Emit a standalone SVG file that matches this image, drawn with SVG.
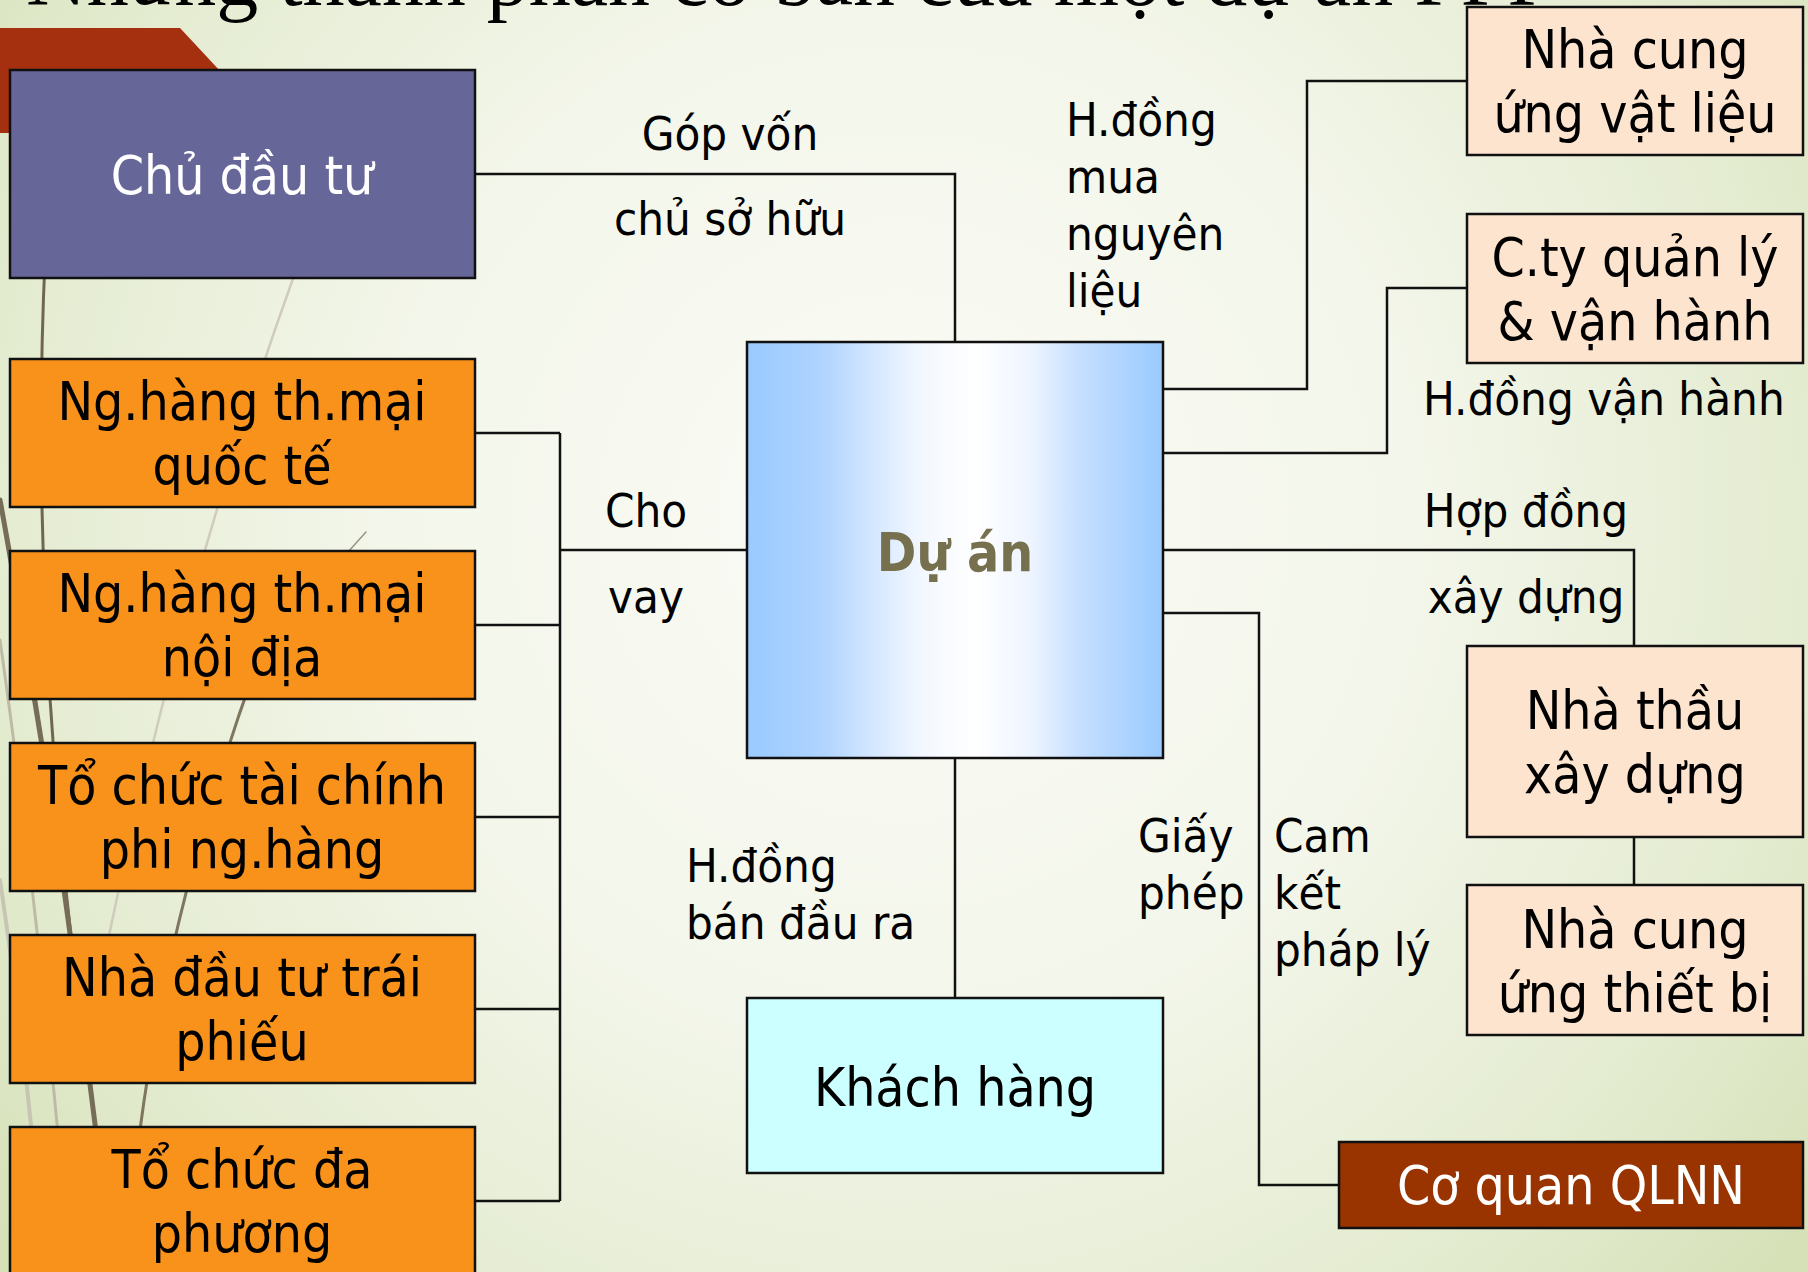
<svg xmlns="http://www.w3.org/2000/svg" width="1808" height="1272" viewBox="0 0 1808 1272">
  <defs>
    <radialGradient id="bg" cx="900" cy="520" r="1150" gradientUnits="userSpaceOnUse">
      <stop offset="0" stop-color="#FBFCF7"/>
      <stop offset="0.45" stop-color="#F3F6EA"/>
      <stop offset="0.8" stop-color="#E3EBCF"/>
      <stop offset="1" stop-color="#D6E1B8"/>
    </radialGradient>
    <linearGradient id="projFill" x1="0" y1="0" x2="1" y2="0">
      <stop offset="0" stop-color="#99CAFF"/>
      <stop offset="0.18" stop-color="#AFD4FF"/>
      <stop offset="0.3" stop-color="#D3E7FF"/>
      <stop offset="0.42" stop-color="#F3F8FF"/>
      <stop offset="0.55" stop-color="#FFFFFF"/>
      <stop offset="0.68" stop-color="#EEF5FF"/>
      <stop offset="0.8" stop-color="#C6DFFF"/>
      <stop offset="1" stop-color="#99CAFF"/>
    </linearGradient>
    <style>
      .box { stroke: #111; stroke-width: 2.5; }
      .bank { fill: #F8921A; }
      .peach { fill: #FDE4CF; }
      .node { font-family: 'DejaVu Sans Condensed', 'DejaVu Sans', sans-serif; font-stretch: condensed; font-size: 53px; text-anchor: middle; fill: #000; }
      .lbl { font-family: 'DejaVu Sans Condensed', 'DejaVu Sans', sans-serif; font-stretch: condensed; font-size: 47px; fill: #000; }
      .mid { text-anchor: middle; }
      .wire { fill: none; stroke: #111; stroke-width: 2.5; }
      .wisp { fill: none; stroke-linecap: round; }
    </style>
  </defs>

  <!-- slide background -->
  <rect x="0" y="0" width="1808" height="1272" fill="url(#bg)"/>

  <!-- theme wisps on the left edge -->
  <g id="wisps">
    <path class="wisp" d="M46 240 Q 22 700 118 1272" stroke="#6F6752" stroke-width="3"/>
    <path class="wisp" d="M0 500 Q 70 880 112 1272" stroke="#756D57" stroke-width="5"/>
    <path class="wisp" d="M0 640 Q 45 960 70 1272" stroke="#BEBAA6" stroke-width="3"/>
    <path class="wisp" d="M0 880 Q 30 1080 44 1272" stroke="#C8C5B3" stroke-width="4"/>
    <path class="wisp" d="M296 270 Q 170 620 96 1000" stroke="#CFCCBC" stroke-width="2.5"/>
    <path class="wisp" d="M262 650 Q 170 900 140 1130" stroke="#7E765F" stroke-width="3"/>
    <path class="wisp" d="M366 532 L 348 552" stroke="#9A9480" stroke-width="1.5"/>
  </g>

  <!-- red accent band -->
  <polygon points="0,28 180,28 278,133 0,133" fill="#A4300F"/>

  <!-- title -->
  <text x="26" y="5" font-family="'Liberation Serif', serif" font-size="84" fill="#000">Những thành phần cơ bản của một dự án PPP</text>

  <!-- connectors -->
  <g id="connectors">
    <path class="wire" d="M475 174 H955 V342"/>
    <path class="wire" d="M475 433 H560 M475 625 H560 M475 817 H560 M475 1009 H560 M475 1201 H560 M560 433 V1201 M560 550 H747"/>
    <path class="wire" d="M1163 389 H1307 V81 H1467"/>
    <path class="wire" d="M1163 453 H1387 V288 H1467"/>
    <path class="wire" d="M1163 550 H1634 V646"/>
    <path class="wire" d="M1634 837 V885"/>
    <path class="wire" d="M1163 613 H1259 V1185 H1339"/>
    <path class="wire" d="M955 758 V998"/>
  </g>

  <!-- connector labels -->
  <g id="labels">
    <text class="lbl mid" x="730" y="150">Góp vốn</text>
    <text class="lbl mid" x="730" y="235">chủ sở hữu</text>
    <text class="lbl" x="1066" y="136">H.đồng</text>
    <text class="lbl" x="1066" y="193">mua</text>
    <text class="lbl" x="1066" y="250">nguyên</text>
    <text class="lbl" x="1066" y="307">liệu</text>
    <text class="lbl" x="1423" y="415">H.đồng vận hành</text>
    <text class="lbl mid" x="1526" y="527">Hợp đồng</text>
    <text class="lbl mid" x="1526" y="613">xây dựng</text>
    <text class="lbl mid" x="646" y="527">Cho</text>
    <text class="lbl mid" x="646" y="613">vay</text>
    <text class="lbl" x="686" y="882">H.đồng</text>
    <text class="lbl" x="686" y="939">bán đầu ra</text>
    <text class="lbl" x="1138" y="852">Giấy</text>
    <text class="lbl" x="1138" y="909">phép</text>
    <text class="lbl" x="1274" y="852">Cam</text>
    <text class="lbl" x="1274" y="909">kết</text>
    <text class="lbl" x="1274" y="966">pháp lý</text>
  </g>

  <!-- nodes -->
  <g id="chu-dau-tu">
    <rect class="box" x="10" y="70" width="465" height="208" fill="#666699"/>
    <text class="node" x="242" y="194" style="fill:#FFFFFF">Chủ đầu tư</text>
  </g>
  <g id="ngan-hang-quoc-te">
    <rect class="box bank" x="10" y="359" width="465" height="148"/>
    <text class="node" x="242" y="420">Ng.hàng th.mại</text>
    <text class="node" x="242" y="484">quốc tế</text>
  </g>
  <g id="ngan-hang-noi-dia">
    <rect class="box bank" x="10" y="551" width="465" height="148"/>
    <text class="node" x="242" y="612">Ng.hàng th.mại</text>
    <text class="node" x="242" y="676">nội địa</text>
  </g>
  <g id="to-chuc-tai-chinh">
    <rect class="box bank" x="10" y="743" width="465" height="148"/>
    <text class="node" x="242" y="804">Tổ chức tài chính</text>
    <text class="node" x="242" y="868">phi ng.hàng</text>
  </g>
  <g id="nha-dau-tu-trai-phieu">
    <rect class="box bank" x="10" y="935" width="465" height="148"/>
    <text class="node" x="242" y="996">Nhà đầu tư trái</text>
    <text class="node" x="242" y="1060">phiếu</text>
  </g>
  <g id="to-chuc-da-phuong">
    <rect class="box bank" x="10" y="1127" width="465" height="148"/>
    <text class="node" x="242" y="1188">Tổ chức đa</text>
    <text class="node" x="242" y="1252">phương</text>
  </g>
  <g id="du-an">
    <rect class="box" x="747" y="342" width="416" height="416" fill="url(#projFill)"/>
    <text class="node" x="955" y="571" font-weight="bold" style="fill:#77704F">Dự án</text>
  </g>
  <g id="khach-hang">
    <rect class="box" x="747" y="998" width="416" height="175" fill="#CCFFFF"/>
    <text class="node" x="955" y="1106">Khách hàng</text>
  </g>
  <g id="nha-cung-vat-lieu">
    <rect class="box peach" x="1467" y="7" width="336" height="148"/>
    <text class="node" x="1635" y="68">Nhà cung</text>
    <text class="node" x="1635" y="132">ứng vật liệu</text>
  </g>
  <g id="cty-quan-ly">
    <rect class="box peach" x="1467" y="214" width="336" height="149"/>
    <text class="node" x="1635" y="276">C.ty quản lý</text>
    <text class="node" x="1635" y="340">&amp; vận hành</text>
  </g>
  <g id="nha-thau">
    <rect class="box peach" x="1467" y="646" width="336" height="191"/>
    <text class="node" x="1635" y="729">Nhà thầu</text>
    <text class="node" x="1635" y="793">xây dựng</text>
  </g>
  <g id="nha-cung-thiet-bi">
    <rect class="box peach" x="1467" y="885" width="336" height="150"/>
    <text class="node" x="1635" y="948">Nhà cung</text>
    <text class="node" x="1635" y="1012">ứng thiết bị</text>
  </g>
  <g id="co-quan-qlnn">
    <rect class="box" x="1339" y="1142" width="464" height="86" fill="#993300"/>
    <text class="node" x="1571" y="1204" style="fill:#FFFFFF">Cơ quan QLNN</text>
  </g>
</svg>
